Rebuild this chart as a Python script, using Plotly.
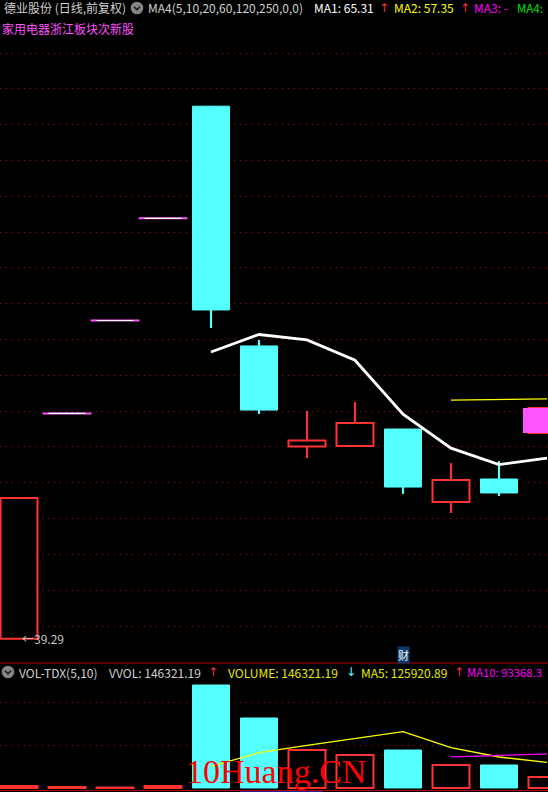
import plotly.graph_objects as go

# ---------------- data ----------------
days = list(range(1, 13))
open_ = [39.29, 51.87, 57.06, 62.77, 69.03, 55.64, 50.02, 50.05, 51.00, 46.92, 48.21, 50.78]
high = [47.15, 51.87, 57.06, 62.77, 69.03, 55.97, 52.01, 52.51, 51.00, 49.10, 49.21, 52.17]
low = [39.29, 51.87, 57.06, 62.77, 56.64, 51.84, 49.38, 50.05, 47.37, 46.31, 47.26, 50.78]
close = [47.15, 51.87, 57.06, 62.77, 57.65, 52.06, 50.36, 51.34, 47.76, 48.15, 47.43, 52.17]
limit_up = [0, 1, 1, 1, 0, 0, 0, 0, 0, 0, 0, 1]

ma1 = [None, None, None, None, 55.30, 56.28, 55.98, 54.84, 51.83, 49.93, 49.01, 49.38]
ma2 = [None] * 9 + [52.62, 52.64, 52.68]

volume = [4650, 2300, 1000, 4650, 239500, 162800, 88400, 76700, 88400, 53500, 53500, 25600]
vol_ma5 = [None, None, None, None, 50400, 82100, 99300, 114400, 131200, 94000, 72100, 59500]
vol_ma10 = [None] * 9 + [72200, 75500, 79400]

title_text = "德业股份 (日线,前复权)"
ma_param_text = "MA4(5,10,20,60,120,250,0,0)"
ma1_text, ma2_text, ma3_text, ma4_text = "MA1: 65.31", "MA2: 57.35", "MA3: -", "MA4:"
sector_text = "家用电器浙江板块次新股"
vol_name = "VOL-TDX(5,10)"
vvol_text, volume_text = "VVOL: 146321.19", "VOLUME: 146321.19"
vma5_text, vma10_text = "MA5: 125920.89", "MA10: 93368.3"
marker_day, marker_text = 9, "财"
watermark = "10Huang.CN"

# ---------------- style ----------------
W, H = 548, 792
RED = "#FF3232"
CYAN = "#54FFFF"
MAG = "#FF54FF"
GRID = "#A01010"
FONT = "Noto Sans CJK SC"
BODY_W = 0.77
WICK_W = 0.045

fig = go.Figure()

up = [i for i in range(12) if close[i] > open_[i]]
down = [i for i in range(12) if close[i] < open_[i]]
flat = [i for i in range(12) if close[i] == open_[i]]


def pick(arr, idx):
    return [arr[i] for i in idx]


# wicks
for idx, col in ((up, RED), (down, CYAN)):
    fig.add_trace(go.Bar(
        x=pick(days, idx), y=[high[i] - low[i] for i in idx], base=pick(low, idx),
        width=WICK_W, marker=dict(color=col, line=dict(width=0)), yaxis="y",
        hoverinfo="skip"))

# bodies
fig.add_trace(go.Bar(
    x=pick(days, up), y=[close[i] - open_[i] for i in up], base=pick(open_, up),
    width=BODY_W, marker=dict(color="#000000", line=dict(color=RED, width=2)), yaxis="y"))
fig.add_trace(go.Bar(
    x=pick(days, down), y=[open_[i] - close[i] for i in down], base=pick(close, down),
    width=BODY_W, marker=dict(color=CYAN, line=dict(color=CYAN, width=1)), yaxis="y"))

# limit-up highlight (full slot)
lu_body = [i for i in range(12) if limit_up[i] and close[i] != open_[i]]
fig.add_trace(go.Bar(
    x=pick(days, lu_body), y=[close[i] - open_[i] for i in lu_body], base=pick(open_, lu_body),
    width=1.0, marker=dict(color=MAG, line=dict(width=0)), yaxis="y"))

seg_x_m, seg_y_m, seg_x_w, seg_y_w = [], [], [], []
for i in flat:
    seg_x_m += [days[i] - 0.51, days[i] + 0.51, None]
    seg_y_m += [close[i], close[i], None]
    seg_x_w += [days[i] - BODY_W / 2, days[i] + BODY_W / 2, None]
    seg_y_w += [close[i], close[i], None]
fig.add_trace(go.Scatter(x=seg_x_m, y=seg_y_m, mode="lines",
                         line=dict(color=MAG, width=2), yaxis="y"))
fig.add_trace(go.Scatter(x=seg_x_w, y=seg_y_w, mode="lines",
                         line=dict(color="#FFFFFF", width=1.2), yaxis="y"))

# MA lines
fig.add_trace(go.Scatter(x=days, y=ma1, mode="lines", line=dict(color="#FFFFFF", width=2.8), yaxis="y"))
fig.add_trace(go.Scatter(x=days, y=ma2, mode="lines", line=dict(color="#FFFF00", width=1.3), yaxis="y"))

# volume
vup = [i for i in range(12) if i not in down]
fig.add_trace(go.Bar(
    x=pick(days, vup), y=pick(volume, vup), width=BODY_W,
    marker=dict(color="#000000", line=dict(color=RED, width=2)), yaxis="y2"))
fig.add_trace(go.Bar(
    x=pick(days, down), y=pick(volume, down), width=BODY_W,
    marker=dict(color=CYAN, line=dict(color=CYAN, width=1)), yaxis="y2"))
fig.add_trace(go.Scatter(x=days, y=vol_ma5, mode="lines", line=dict(color="#FFFF00", width=1.3), yaxis="y2"))
fig.add_trace(go.Scatter(x=days, y=vol_ma10, mode="lines", line=dict(color="#FF00FF", width=1.3), yaxis="y2"))

# ---------------- layout ----------------
def px(x, y):
    return x / W, 1 - y / H


annotations = []


def txt(s, x, y, color, size=12, family=FONT, **kw):
    px_, py_ = px(x, y)
    annotations.append(dict(text=s, x=px_, y=py_, xref="paper", yref="paper",
                            xanchor="left", yanchor="middle", showarrow=False,
                            font=dict(color=color, size=size, family=family), **kw))


GRAY = "#D0D0D0"
ARW = "DejaVu Sans"
txt(title_text, 2, 8, GRAY)
txt(ma_param_text, 146, 8, GRAY)
txt(ma1_text, 312, 8, "#FFFFFF")
txt("↑", 377, 8, "#FF3030", family=ARW)
txt(ma2_text, 392, 8, "#FFFF00")
txt("↑", 458, 8, "#FF3030", family=ARW)
txt(ma3_text, 472, 8, "#FF00FF")
txt(ma4_text, 515, 8, "#00E000", size=11.5)
txt(sector_text, 0, 28, "#FF50FF")

txt(vol_name, 17, 672, GRAY)
txt(vvol_text, 107, 672, GRAY)
txt("↑", 206, 672, "#FF3030", family=ARW)
txt(volume_text, 226, 672, "#E8E800")
txt("↓", 344, 672, CYAN, family=ARW)
txt(vma5_text, 359, 672, "#E8E800")
txt("↑", 452, 672, "#FF3030", family=ARW)
txt(vma10_text, 465, 672, "#FF00FF", size=11.3)

# lowest price marker
lo_i = min(range(12), key=lambda i: low[i])
annotations.append(dict(text="←" + f"{low[lo_i]:.2f}", x=days[lo_i] + 0.02, y=low[lo_i],
                        xref="x", yref="y", xanchor="left", yanchor="middle", showarrow=False,
                        font=dict(color="#C8C8C8", size=12, family=FONT)))

# 财 marker
annotations.append(dict(text=marker_text, x=days[marker_day - 1], y=1 - 655 / H,
                        xref="x", yref="paper", xanchor="center", yanchor="middle",
                        showarrow=False, bgcolor="#0C3C6C", borderpad=0,
                        font=dict(color="#FFFFFF", size=11, family=FONT)))

# watermark
wx, wy = px(184, 771)
annotations.append(dict(text=watermark, x=wx, y=wy, xref="paper", yref="paper",
                        xanchor="left", yanchor="middle", showarrow=False,
                        font=dict(color="#FF0000", size=34, family="Liberation Serif")))

shapes = []
for cx, cy in ((137, 8), (8, 672)):
    x0, y0 = px(cx - 6.3, cy - 6.3)
    x1, y1 = px(cx + 6.3, cy + 6.3)
    shapes.append(dict(type="circle", xref="paper", yref="paper", x0=x0, y0=y1, x1=x1, y1=y0,
                       fillcolor="#858585", line=dict(width=0)))
    a = px(cx - 3, cy - 1.3)
    b = px(cx, cy + 1.7)
    c = px(cx + 3, cy - 1.3)
    shapes.append(dict(type="path", xref="paper", yref="paper",
                       path=f"M {a[0]} {a[1]} L {b[0]} {b[1]} L {c[0]} {c[1]}",
                       line=dict(color="#1a1a1a", width=1.6)))
for yy, col in ((663, "#B80000"), (790.5, "#B80000")):
    shapes.append(dict(type="line", xref="paper", yref="paper", x0=0, x1=1,
                       y0=1 - yy / H, y1=1 - yy / H, line=dict(color=col, width=1)))
shapes.append(dict(type="line", xref="paper", yref="paper", x0=240 / W, x1=323 / W,
                   y0=1 - 791.5 / H, y1=1 - 791.5 / H, line=dict(color="#202090", width=1)))

fig.update_layout(
    width=W, height=H, margin=dict(l=0, r=0, t=0, b=0),
    paper_bgcolor="#000000", plot_bgcolor="#000000",
    showlegend=False, barmode="overlay", hovermode=False,
    xaxis=dict(range=[1 - 19 / 48, 1 + (W - 19) / 48], visible=False, fixedrange=True),
    yaxis=dict(domain=[1 - 660 / H, 1 - 40 / H], range=[40 - 34 / 17.906, 40 + 586 / 17.906],
               tick0=40, dtick=2, showgrid=True, gridcolor=GRID, griddash="1px,5px", gridwidth=1,
               zeroline=False, showticklabels=False, ticks="", showline=False),
    yaxis2=dict(domain=[1 - 790 / H, 1 - 664 / H], range=[-2 * 100000 / 43, 124 * 100000 / 43],
                tickvals=[100000, 200000], showgrid=True, gridcolor=GRID, griddash="1px,5px",
                gridwidth=1, zeroline=False, showticklabels=False, ticks="", showline=False,
                anchor="x"),
    annotations=annotations, shapes=shapes,
)

fig.write_html(
    "out.html",
    config={"displayModeBar": False},
    post_script="document.body.style.margin='0';document.body.style.background='#000';"
                "document.body.style.overflow='hidden';window.dispatchEvent(new Event('resize'));",
)
